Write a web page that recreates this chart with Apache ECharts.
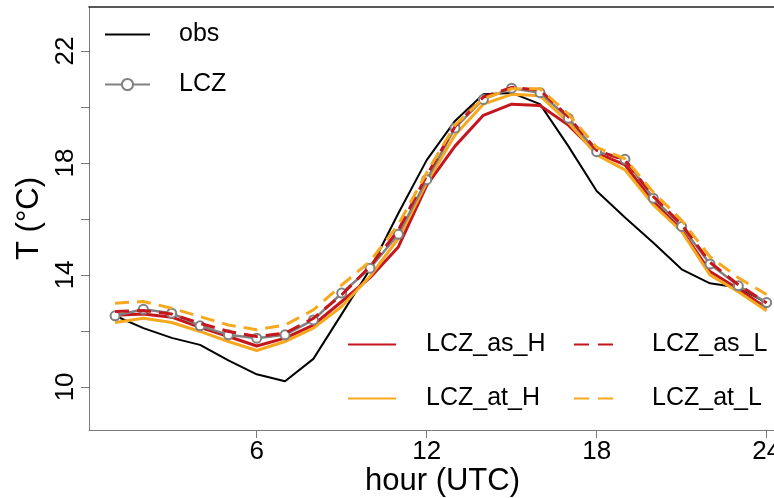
<!DOCTYPE html>
<html>
<head>
<meta charset="utf-8">
<script src="https://cdn.jsdelivr.net/npm/echarts@6/dist/echarts.min.js"></script>
<style>
html,body{margin:0;padding:0;background:#fff;}
#main{width:774px;height:498px;}
</style>
</head>
<body>
<div id="main"></div>
<script>
// ---- data ----
var hours = [1,2,3,4,5,6,7,8,9,10,11,12,13,14,15,16,17,18,19,20,21,22,23,24];
var obs      = [12.54,12.10,11.75,11.50,10.95,10.45,10.20,11.00,12.60,14.20,16.20,18.10,19.50,20.45,20.50,20.10,18.60,17.00,16.05,15.15,14.20,13.70,13.55,13.00];
var lcz      = [12.54,12.77,12.63,12.18,11.86,11.74,11.86,12.39,13.35,14.24,15.45,17.40,19.25,20.27,20.67,20.51,19.60,18.40,18.13,16.74,15.73,14.39,13.61,13.01];
var lczAsH   = [12.56,12.60,12.49,12.13,11.80,11.46,11.74,12.21,13.05,13.90,15.00,17.20,18.60,19.70,20.10,20.05,19.35,18.36,17.93,16.62,15.60,14.12,13.50,12.81];
var lczAsL   = [12.69,12.73,12.60,12.27,11.98,11.80,11.92,12.45,13.29,14.30,15.60,17.55,19.30,20.35,20.70,20.60,19.65,18.45,18.10,16.80,15.80,14.45,13.65,13.00];
var lczAtH   = [12.30,12.45,12.30,11.98,11.62,11.30,11.62,12.10,12.87,13.95,15.30,17.30,19.00,20.10,20.45,20.40,19.45,18.29,17.75,16.50,15.55,14.00,13.40,12.72];
var lczAtL   = [12.99,13.05,12.81,12.51,12.21,12.04,12.21,12.75,13.64,14.48,15.80,17.65,19.35,20.30,20.65,20.65,19.75,18.55,18.15,16.95,15.95,14.65,13.90,13.30];
var xTickLabels = [6,12,18,24];
var yTickLabels = [10,14,18,22];
var yTicks = [10,12,14,16,18,20,22];

var FONT = 'Liberation Sans, Arial, sans-serif';
var RED = '#C4161C', ORANGE = '#F6A81E', GRAY = '#808080';

function pairs(vals){ return hours.map(function(h,i){ return [h, vals[i]]; }); }

var chart = echarts.init(document.getElementById('main'), null, {renderer:'canvas'});
var axisGray = '#7a7a7a';
function lineSeries(name, vals, color, width, dashed, z){
  return {
    name: name, type: 'line', data: pairs(vals), symbol: 'none', z: z,
    lineStyle: {color: color, width: width, type: dashed ? [14,8] : 'solid'},
    itemStyle: {color: color}, animation: false, silent: true
  };
}
function legText(pad){ return {fontFamily: FONT, fontSize: 25, color: '#000', padding: [0,0,0,pad]}; }
function oneLegend(name, left, top, w, pad, showSym, dashed){
  var l = {data:[name], left:left, top:top, padding:0, itemWidth:w, itemHeight:14,
           textStyle: legText(pad), selectedMode:false};
  if (!showSym) l.itemStyle = {opacity: 0};
  if (dashed) l.lineStyle = {type: [15,9]};
  return l;
}

chart.setOption({
  backgroundColor: '#fff',
  animation: false,
  grid: {left: 89, right: 0, top: 7, bottom: 68, outerBoundsMode: 'none', containLabel: false},
  xAxis: [{
    type: 'value', min: 0.08, max: 24.26, position: 'bottom',
    axisLine: {show: true, lineStyle: {color: axisGray, width: 1}},
    axisTick: {show: true, length: 8, customValues: xTickLabels, lineStyle:{color: axisGray}},
    axisLabel: {customValues: xTickLabels, fontFamily: FONT, fontSize: 26, color: '#000', margin: 9},
    splitLine: {show: false},
    name: 'hour (UTC)', nameLocation: 'middle', nameGap: 36, nameMoveOverlap: false,
    nameTextStyle: {fontFamily: FONT, fontSize: 31, color: '#000', padding: [0,0,0,22]}
  },{
    type: 'value', min: 0.08, max: 24.26, position: 'top',
    axisLine: {show: true, lineStyle: {color: '#222', width: 1.5}},
    axisTick: {show: false}, axisLabel: {show: false}, splitLine: {show: false}
  }],
  yAxis: {
    type: 'value', min: 8.46, max: 23.57,
    axisLine: {show: true, lineStyle: {color: axisGray, width: 1}},
    axisTick: {show: true, length: 8, customValues: yTicks, lineStyle:{color: axisGray}},
    axisLabel: {customValues: yTickLabels, rotate: 90, fontFamily: FONT, fontSize: 26, color: '#000', margin: 10},
    splitLine: {show: false},
    name: 'T (°C)', nameLocation: 'middle', nameGap: 42,
    nameTextStyle: {fontFamily: FONT, fontSize: 31, color: '#000'}
  },
  legend: [
    oneLegend('obs', 104, 22, 45, 24, false, false),
    oneLegend('LCZ', 104, 72, 45, 24, true, false),
    oneLegend('LCZ_as_H', 347, 332, 48, 25, false, false),
    oneLegend('LCZ_as_L', 573, 332, 48, 25, false, true),
    oneLegend('LCZ_at_H', 347, 386, 48, 25, false, false),
    oneLegend('LCZ_at_L', 573, 386, 48, 25, false, true)
  ],
  series: [
    lineSeries('obs', obs, '#000', 2, false, 2),
    lineSeries('LCZ_as_H', lczAsH, RED, 3, false, 3),
    lineSeries('LCZ_at_H', lczAtH, ORANGE, 3, false, 4),
    {
      name: 'LCZ', type: 'line', data: pairs(lcz), z: 5,
      symbol: 'emptyCircle', symbolSize: 9, showSymbol: true, showAllSymbol: true,
      lineStyle: {color: GRAY, width: 2.5},
      itemStyle: {color: GRAY, borderColor: GRAY, borderWidth: 2},
      silent: true
    },
    lineSeries('LCZ_as_L', lczAsL, RED, 3, true, 6),
    lineSeries('LCZ_at_L', lczAtL, ORANGE, 3, true, 7)
  ]
});
</script>
</body>
</html>
